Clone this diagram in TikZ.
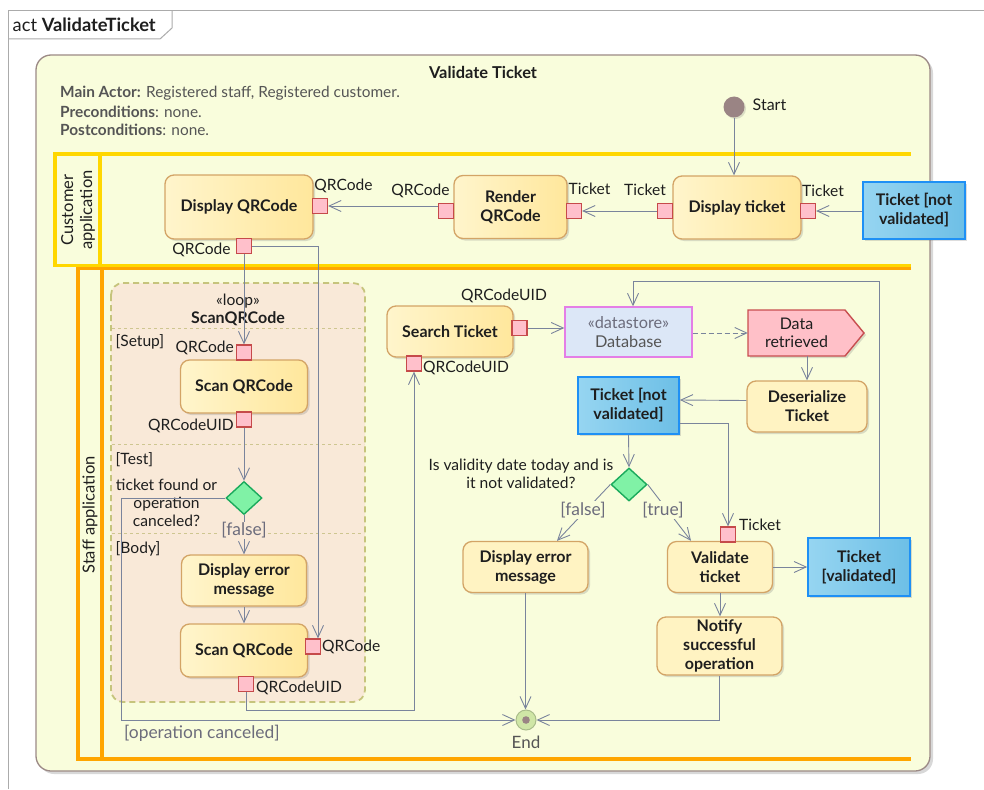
\documentclass[tikz,border=0pt]{standalone}
\usepackage{fontspec}
\setmainfont{Lato}
\usetikzlibrary{arrows.meta,shapes.geometric,shadows,calc}

% palette
\definecolor{frameline}{HTML}{ABABAB}
\definecolor{bgfill}{HTML}{F9FDDC}
\definecolor{bgline}{HTML}{9C8A86}
\definecolor{custlane}{HTML}{FFD700}
\definecolor{stafflane}{HTML}{FFA500}
\definecolor{actA}{HTML}{FFF5CC}
\definecolor{actB}{HTML}{FFE79C}
\definecolor{actflat}{HTML}{FFF3C2}
\definecolor{actline}{HTML}{D3A466}
\definecolor{pinfill}{HTML}{FFC0CB}
\definecolor{pinline}{HTML}{C64A4A}
\definecolor{objA}{HTML}{96D5F1}
\definecolor{objB}{HTML}{6DBFE6}
\definecolor{objline}{HTML}{1E90F5}
\definecolor{flowc}{HTML}{7A849C}
\definecolor{loopfill}{HTML}{F9E9D8}
\definecolor{loopline}{HTML}{C6C47C}
\definecolor{sepline}{HTML}{CEC690}
\definecolor{decfill}{HTML}{80F2A6}
\definecolor{decline}{HTML}{1AAA5C}
\definecolor{dsfill}{HTML}{DCE7F7}
\definecolor{dsline}{HTML}{E47EE6}
\definecolor{sigfill}{HTML}{FFC0C8}
\definecolor{sigline}{HTML}{C84E50}
\definecolor{dotc}{HTML}{9A8484}
\definecolor{endfill}{HTML}{CFE6A6}
\definecolor{endline}{HTML}{A9BC8A}
\definecolor{guardc}{HTML}{6C6C7C}
\definecolor{infoc}{HTML}{555555}
\definecolor{txt}{HTML}{1E1E1E}

\newcommand{\actfont}{\fontsize{16}{19}\selectfont\bfseries}
\newcommand{\lblfont}{\fontsize{15.6}{18}\selectfont}
\newcommand{\guardfont}{\fontsize{17.4}{20}\selectfont}
\newcommand{\infofont}{\fontsize{15.4}{18}\selectfont}

\tikzset{
  x=1pt, y=-1pt,
  sz/.style 2 args={minimum width=#1, minimum height=#2},
  boxshadow/.style={drop shadow={shadow xshift=2pt, shadow yshift=-2pt, opacity=0.22, fill=black!60}},
  action/.style={rectangle, rounded corners=9pt, draw=actline, line width=1.3pt,
    left color=actA, right color=actB, align=center, inner sep=2pt, text=txt,
    font=\actfont, boxshadow},
  actionflat/.style={action, left color=actflat, right color=actflat},
  objbox/.style={rectangle, draw=objline, line width=1.7pt, left color=objA,
    right color=objB, align=center, font=\actfont, text=txt, inner sep=2pt, boxshadow},
  pinbox/.style={rectangle, draw=pinline, fill=pinfill, line width=1.2pt,
    minimum size=15pt, inner sep=0pt},
  pinlabel/.style={font=\lblfont, text=txt, inner sep=0pt},
  guardlabel/.style={font=\guardfont, text=guardc, inner sep=1pt},
  decision/.style={diamond, draw=decline, fill=decfill, line width=1.4pt,
    minimum width=36pt, minimum height=33pt, inner sep=0pt},
  flowline/.style={draw=flowc, line width=0.9pt,
    -{Straight Barb[length=12pt, width=11pt, line width=0.9pt]}},
  lanehead/.style={font=\fontsize{16.5}{19}\selectfont, text=txt, align=center, rotate=90},
  sepline/.style={draw=sepline, line width=0.8pt, dash pattern=on 3pt off 3pt},
}

\begin{document}
\begin{tikzpicture}
\useasboundingbox[fill=white] (0,0) rectangle (984,789);

% diagram frame with its name tab
\draw[frameline, line width=1pt] (8,789) -- (8,11) -- (984,11);
\draw[frameline, line width=1pt] (8,39) -- (160,39) -- (172,28) -- (172,11);
\node[anchor=west, inner sep=0pt, font=\fontsize{18.3}{21}\selectfont, text=txt] (acttab) at (12.5,25)
  {act \textbf{ValidateTicket}};

% activity body
\draw[draw=bgline, fill=bgfill, rounded corners=15pt, line width=1.3pt,
  drop shadow={shadow xshift=3pt, shadow yshift=-3pt, opacity=0.25, fill=black!60}]
  (36,55) rectangle (930,771);
\node[font=\fontsize{16.4}{19}\selectfont\bfseries, text=txt] (title) at (483,72) {Validate Ticket};
\node[anchor=west, font=\infofont, text=infoc, inner sep=0pt] (info1) at (60,93)
  {\textbf{Main Actor:} Registered staff, Registered customer.};
\node[anchor=west, font=\infofont, text=infoc, inner sep=0pt] (info2) at (60,111.5)
  {\textbf{Preconditions}: none.};
\node[anchor=west, font=\infofont, text=infoc, inner sep=0pt] (info3) at (60,129.5)
  {\textbf{Postconditions}: none.};

% swimlanes
\draw[custlane, line width=3.5pt] (911,154) -- (55,154) -- (55,265.5) -- (911,265.5);
\draw[custlane, line width=3.5pt] (100,154) -- (100,265.5);
\node[lanehead] (custlab) at (78,210) {Customer\\application};
\draw[stafflane, line width=3.5pt] (911,268.5) -- (78,268.5) -- (78,759) -- (911,759);
\draw[stafflane, line width=3.5pt] (102,268.5) -- (102,759);
\node[lanehead] (stafflab) at (90,515) {Staff application};

% initial node
\node[circle, fill=dotc, minimum size=21pt, inner sep=0pt,
  drop shadow={shadow xshift=1.5pt, shadow yshift=-1.5pt, opacity=0.2, fill=black!60}] (start) at (734,107) {};
\node[anchor=west, font=\fontsize{16}{19}\selectfont, text=txt, inner sep=0pt] (startlab) at (752.5,105) {Start};

% ---- customer application ----
\node[action, sz={148}{64}] (dqr) at (239,207) {Display QRCode};
\node[action, sz={113}{63}] (rqr) at (510.5,207) {Render\\QRCode};
\node[action, sz={128}{63}] (dtk) at (737,207.5) {Display ticket};
\node[objbox, sz={102}{57}] (tnv1) at (914,210.5) {Ticket [not\\validated]};

\node[pinbox] (dqrO) at (320,206) {};
\node[pinbox] (dqrB) at (244,246) {};
\node[pinbox] (rqrI) at (446,211) {};
\node[pinbox] (rqrO) at (574,211) {};
\node[pinbox] (dtkO) at (665,211) {};
\node[pinbox] (dtkI) at (808,211) {};

\node[pinlabel] at (343.5,186) {QRCode};
\node[pinlabel] at (201.5,250) {QRCode};
\node[pinlabel] at (420.5,191) {QRCode};
\node[pinlabel] at (589.5,189) {Ticket};
\node[pinlabel] at (645,190) {Ticket};
\node[pinlabel] at (823,191) {Ticket};

\draw[flowline] (start) -- (start |- dtk.north);
\draw[flowline] (tnv1.west |- dtkI) -- (dtkI.east);
\draw[flowline] (dtkO.west) -- (rqrO.east);
\draw[flowline] (rqrI.west |- dqrO) -- (dqrO.east);

% ---- staff application: loop node ----
\draw[draw=loopline, fill=loopfill, line width=1.8pt, dash pattern=on 6pt off 4pt,
  rounded corners=12pt] (111,283) rectangle (365,702);
\node[font=\lblfont, text=txt, inner sep=0pt] (loopst) at (238,301) {«loop»};
\node[font=\actfont, text=txt, inner sep=0pt] (loopname) at (238,319) {ScanQRCode};
\draw[sepline] (112,328) -- (364,328);
\draw[sepline] (112,444.5) -- (364,444.5);
\draw[sepline] (112,533.5) -- (364,533.5);
\node[anchor=west, pinlabel] (setup) at (115.5,342) {[Setup]};
\node[anchor=west, pinlabel] (test) at (115.5,460) {[Test]};
\node[anchor=west, pinlabel] (body) at (115.5,549) {[Body]};

\node[action, sz={127}{53}] (scan1) at (244,386.5) {Scan QRCode};
\node[pinbox] (scan1I) at (244,352.5) {};
\node[pinbox] (scan1O) at (244,419.5) {};
\node[anchor=east, pinlabel] at (234,348) {QRCode};
\node[anchor=east, pinlabel] at (234,426) {QRCodeUID};

\node[decision] (dec1) at (244,498) {};
\node[font=\lblfont, text=txt, align=center, inner sep=0pt] (dec1q) at (166.5,503)
  {ticket found or\\operation\\canceled?};

\node[action, sz={125}{51}] (err1) at (244,580.5) {Display error\\message};
\node[action, sz={127}{53}] (scan2) at (244,650.5) {Scan QRCode};
\node[pinbox] (scan2I) at (313,646.5) {};
\node[pinbox] (scan2O) at (246,684) {};
\node[anchor=west, pinlabel] at (322,647) {QRCode};
\node[anchor=west, pinlabel] at (256,688) {QRCodeUID};

% ---- staff application: search and validation ----
\node[action, sz={126}{51}] (search) at (450,331.5) {Search Ticket};
\node[pinbox] (searchO) at (519.5,328) {};
\node[pinbox] (searchI) at (414,363.5) {};
\node[pinlabel] at (504,296) {QRCodeUID};
\node[anchor=west, pinlabel] at (423,368) {QRCodeUID};

\node[rectangle, draw=dsline, fill=dsfill, line width=1.4pt, sz={127}{50}, align=center,
  inner sep=0pt, font=\fontsize{16.3}{18.5}\selectfont] (db) at (628.5,332)
  {{\color{guardc}«datastore»}\\{\color{infoc}Database}};

\draw[draw=sigline, fill=sigfill, line width=1.4pt, boxshadow]
  (748,310) -- (845,310) -- (864,333) -- (845,356) -- (748,356) -- cycle;
\node[sz={97}{46}, inner sep=0pt, align=center, font=\fontsize{16}{18.5}\selectfont, text=txt]
  (datar) at (796.5,333) {Data\\retrieved};

\node[actionflat, sz={120}{51}] (deser) at (807,406.5) {Deserialize\\Ticket};
\node[objbox, sz={101}{57}] (tnv2) at (628.5,405.5) {Ticket [not\\validated]};
\node[decision] (dec2) at (629,484.5) {};
\node[font=\lblfont, text=txt, align=center, inner sep=0pt] (dec2q) at (521,474)
  {Is validity date today and is\\it not validated?};

\node[actionflat, sz={125}{51}] (err2) at (525.5,567) {Display error\\message};
\node[actionflat, sz={105}{51}] (valid) at (720,567) {Validate\\ticket};
\node[pinbox] (validI) at (728,534.5) {};
\node[anchor=west, pinlabel] at (739,525) {Ticket};
\node[objbox, sz={102}{58}] (tval) at (859,567) {Ticket\\{[validated]}};
\node[actionflat, sz={125}{58}] (notify) at (719.5,646) {Notify\\successful\\operation};

% final node
\node[circle, draw=endline, fill=endfill, line width=1pt, minimum size=20pt, inner sep=0pt] (end) at (526,720) {};
\fill[dotc] (end.center) circle (3.8pt);
\node[font=\fontsize{17}{20}\selectfont, text=infoc] (endlab) at (526,742) {End};

% ---- flows inside the loop ----
\draw[flowline] (dqrB.south) -- (scan1I.north);
\coordinate (qrdrop) at (318,246);
\draw[flowline] (dqrB.east) -- (qrdrop) -- (qrdrop |- scan2I.north);
\draw[flowline] (scan1O.south) -- (dec1.north);
\draw[flowline] (dec1.south) -- (err1.north);
\node[guardlabel, fill=loopfill] at (244,530.5) {[false]};
\draw[flowline] (err1.south) -- (scan2.north);

\coordinate (canc) at (121,720);
\draw[flowline] (dec1.west) -| (canc) -- (end.west);
\node[anchor=west, guardlabel] at (123,733.5) {[operation canceled]};

\coordinate (uidturn) at (246,710);
\draw[flowline] (scan2O.south) -- (uidturn) -| (searchI.south);

% ---- flows of the search and validation ----
\draw[flowline] (searchO.east) -- (db.west |- searchO);
\draw[flowline, dashed, dash pattern=on 5pt off 3pt] (db.east |- datar.west) -- (datar.west);
\draw[flowline] (deser.north |- datar.south) -- (deser.north);
\draw[flowline] ($(deser.west)+(0,-6)$) -- ($(tnv2.east)+(0,-5.5)$);
\draw[flowline] (tnv2.south) -- (dec2.north);
\draw[flowline] ($(tnv2.east)+(0,17.5)$) -| (validI.north);

\draw[flowline] (dec2.west) -- ($(err2.north)+(31.5,0)$);
\draw[flowline] (dec2.east) -- ($(valid.north)+(-29,0)$);
\node[guardlabel, fill=bgfill] at (583,510) {[false]};
\node[guardlabel, fill=bgfill] at (663,510) {[true]};

\draw[flowline] (err2.south) -- (err2.south |- end.north);
\draw[flowline] (valid.east) -- (tval.west |- valid.east);
\draw[flowline] (valid.south) -- (valid.south |- notify.north);
\draw[flowline] (notify.south) |- (end.east);

\coordinate (loopback) at (879,281);
\draw[flowline] (tval.north -| loopback) -- (loopback) -| ($(db.north)+(4.5,0)$);

\end{tikzpicture}
\end{document}
